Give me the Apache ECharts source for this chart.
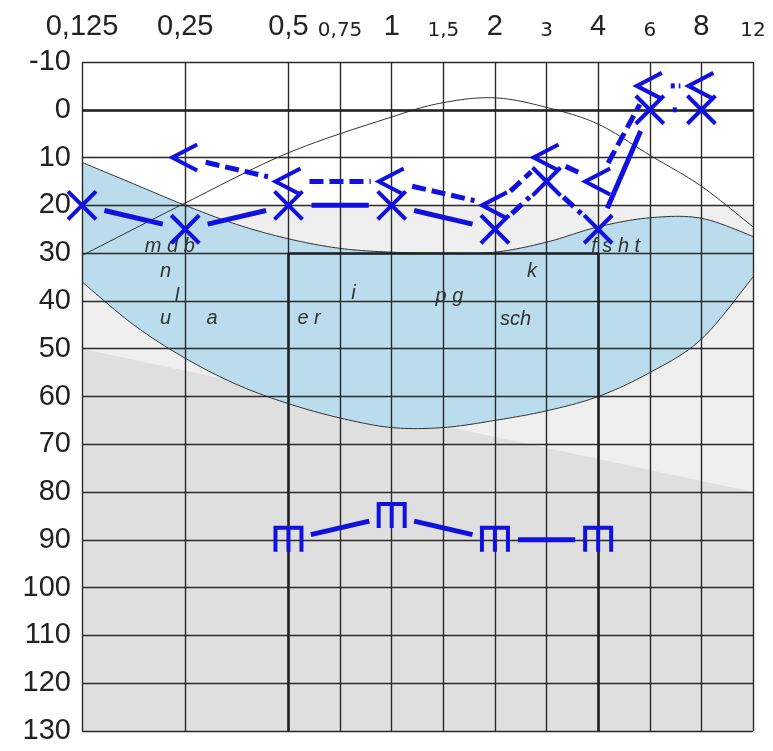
<!DOCTYPE html>
<html><head><meta charset="utf-8">
<script src="https://cdn.jsdelivr.net/npm/echarts@6/dist/echarts.min.js"></script>
<style>html,body{margin:0;padding:0;background:#fff}#c{width:773px;height:751px}</style>
</head><body><div id="c"></div>
<script>
// ---- axis ----
const freqLabels = ['0,125','0,25','0,5','0,75','1','1,5','2','3','4','6','8','12'];
const freqValues = [0.125,0.25,0.5,0.75,1,1.5,2,3,4,6,8,12];
const freqAxisPos = [0,1,2,2.5,3,3.5,4,4.5,5,5.5,6,6.5];
const smallTickLabels = ['0,75','1,5','3','6','12'];
const dbMin = -10, dbMax = 130, dbStep = 10;

// ---- audiogram data ----
const airFreq = [0.125,0.25,0.5,1,2,3,4,6,8];
const airDb   = [20,25,20,20,25,15,25,0,0];
const maskFreq = [0.25,0.5,1,2,3,4,6,8];
const maskDb   = [10,15,15,20,10,15,-5,-5];
const boneFreq = [0.5,1,2,4];
const boneDb   = [90,85,90,90];

// ---- speech banana & curve (axis positions in half-octave units) ----
const bananaPos    = [0,0.5,1,1.5,2,2.5,3,3.5,4,4.5,5,5.5,6,6.5];
const bananaTop    = [11,15.5,20,24,27,29,29.8,30,29.8,27.7,24.5,22.6,22.7,26.5];
const bananaBottom = [36,45,52,57.5,61.5,64.5,66.5,66.5,65,63,60,55,48,35];
const curvePos = [0,1,2,3,3.5,4,4.5,5,5.5,6,6.5];
const curveDb  = [30.5,19.5,9,1.5,-1.5,-2.5,-0.5,3,9.5,16,24.5];
const shadeEdgePos = [0,6.5];
const shadeEdgeDb  = [50,80];
const lightShadeDb = 20;

// ---- phoneme labels ----
const phonemeText = ['m d b','n','l','u','a','e r','i','p g','k','sch','f s h t'];
const phonemePos  = [0.85,0.81,0.92,0.81,1.26,2.2,2.63,3.56,4.36,4.2,5.17];
const phonemeDb   = [28.5,33.9,39,43.6,43.6,43.6,38.5,39,33.9,43.8,28.7];

const BLUE = '#1010e0';
const GRID = '#2a2a2a';
const FONT = "'Liberation Sans', Arial, sans-serif";
const posOf = f => freqAxisPos[freqValues.indexOf(f)];
const xMax = freqAxisPos[freqAxisPos.length-1];

// smooth rendering of a curve through pixel points (Catmull-Rom)
function smoothPath(pts, n) {
  const out = [];
  const L = pts.length;
  for (let i = 0; i < L-1; i++) {
    const p0 = pts[Math.max(i-1,0)], p1 = pts[i], p2 = pts[i+1], p3 = pts[Math.min(i+2,L-1)];
    for (let s = 0; s < n; s++) {
      const t = s/n, t2 = t*t, t3 = t2*t;
      const f = k => 0.5*((2*p1[k]) + (-p0[k]+p2[k])*t + (2*p0[k]-5*p1[k]+4*p2[k]-p3[k])*t2 + (-p0[k]+3*p1[k]-3*p2[k]+p3[k])*t3);
      out.push([f(0), f(1)]);
    }
  }
  out.push(pts[L-1]);
  return out;
}

function markerShape(kind, p) {
  const x = p[0], y = p[1];
  const st = {stroke: BLUE, lineWidth: 4, fill: null, lineJoin: 'miter'};
  if (kind === 'x') {
    return [
      {type:'line', shape:{x1:x-14,y1:y-14,x2:x+14,y2:y+14}, style:st},
      {type:'line', shape:{x1:x-14,y1:y+14,x2:x+14,y2:y-14}, style:st}
    ];
  }
  if (kind === 'lt') {
    return [{type:'polyline', shape:{points:[[x+12,y-13],[x-13,y],[x+12,y+13]]}, style:st}];
  }
  return [
    {type:'polyline', shape:{points:[[x-13,y+12],[x-13,y-12],[x+13,y-12],[x+13,y+12]]}, style:st},
    {type:'line', shape:{x1:x,y1:y-12,x2:x,y2:y+12}, style:st}
  ];
}

function markerSeries(name, freqs, dbs, kind, gap, dashes) {
  const pts = freqs.map((f,i)=>[posOf(f), dbs[i]]);
  return {
    type:'custom', name, z:10, clip:false, silent:true,
    data: pts, encode:{x:0, y:1},
    renderItem(params, api) {
      const i = params.dataIndex;
      const p = api.coord(pts[i]);
      const children = markerShape(kind, p);
      if (i < pts.length-1) {
        const q = api.coord(pts[i+1]);
        const dx = q[0]-p[0], dy = q[1]-p[1], len = Math.hypot(dx,dy);
        if (len > 2*gap) {
          const ux = dx/len, uy = dy/len;
          children.push({type:'line', shape:{x1:p[0]+ux*gap, y1:p[1]+uy*gap, x2:q[0]-ux*gap, y2:q[1]-uy*gap},
            style:{stroke:BLUE, lineWidth:5, lineDash: dashes[i]}});
        }
      }
      return {type:'group', children};
    }
  };
}

const D = [14,6], S = null, DOT = [4,4];
const airDash  = [S,S,S,S,D,D,S,DOT];
const maskDash = [D,D,D,D,D,D,DOT];
const boneDash = [S,S,S];

const chart = echarts.init(document.getElementById('c'), null, {renderer:'canvas'});
chart.setOption({
  animation:false,
  backgroundColor:'#ffffff',
  grid:{left:82, right:20, top:62, bottom:20, containLabel:false},
  xAxis:{
    type:'value', position:'top', min:0, max:xMax, interval:0.5, z:3,
    axisLine:{show:false}, axisTick:{show:false}, splitLine:{show:false},
    axisLabel:{
      margin:21,
      formatter: v => {
        const k = freqAxisPos.findIndex(p => Math.abs(p-v) < 1e-6);
        if (k < 0) return '';
        const t = freqLabels[k];
        return smallTickLabels.includes(t) ? '{s|'+t+'}' : '{b|'+t+'}';
      },
      rich:{
        b:{fontSize:29, fontFamily:FONT, color:'#222', lineHeight:29},
        s:{fontSize:20, fontFamily:"'DejaVu Sans', sans-serif", color:'#222', lineHeight:20}
      }
    }
  },
  yAxis:{
    type:'value', inverse:true, min:dbMin, max:dbMax, interval:dbStep, z:3,
    axisLine:{show:false}, axisTick:{show:false},
    axisLabel:{fontSize:29, fontFamily:FONT, color:'#222', margin:11},
    splitLine:{show:true, lineStyle:{color:GRID, width:1.4}}
  },
  series:[
    {
      type:'custom', z:1, silent:true, clip:true, data:[[0,0]], encode:{x:0,y:1},
      renderItem(params, api) {
        const a = api.coord([0, lightShadeDb]), b = api.coord([xMax, dbMax]);
        const poly = [api.coord([shadeEdgePos[0], shadeEdgeDb[0]]), api.coord([shadeEdgePos[1], shadeEdgeDb[1]]),
                      api.coord([xMax, dbMax]), api.coord([0, dbMax])];
        const top = smoothPath(bananaPos.map((p,i)=>api.coord([p, bananaTop[i]])), 12);
        const bot = smoothPath(bananaPos.map((p,i)=>api.coord([p, bananaBottom[i]])), 12);
        const bell = smoothPath(curvePos.map((p,i)=>api.coord([p, curveDb[i]])), 12);
        const banana = top.concat(bot.slice().reverse());
        const ln = {stroke:'#333', lineWidth:1, fill:null};
        return {type:'group', children:[
          {type:'rect', shape:{x:a[0], y:a[1], width:b[0]-a[0], height:b[1]-a[1]}, style:{fill:'#efefef'}},
          {type:'polygon', shape:{points:poly}, style:{fill:'#dfdfdf'}},
          {type:'polygon', shape:{points:banana}, style:{fill:'#badcec'}},
          {type:'polyline', shape:{points:top}, style:ln},
          {type:'polyline', shape:{points:bot}, style:ln},
          {type:'polyline', shape:{points:bell}, style:ln}
        ]};
      }
    },
    {
      type:'line', z:2, silent:true, symbol:'none', data:[],
      markLine:{
        silent:true, symbol:['none','none'], z:5, animation:false,
        label:{show:false},
        lineStyle:{color:GRID, width:1.4, type:'solid'},
        emphasis:{disabled:true},
        data: freqAxisPos.map(p=>({xAxis:p})).concat([
          [{coord:[0,0], lineStyle:{width:2.6, color:'#222'}}, {coord:[xMax,0]}],
          [{coord:[2,30], lineStyle:{width:2.6, color:'#222'}}, {coord:[5,30]}],
          [{coord:[2,30], lineStyle:{width:2.6, color:'#222'}}, {coord:[2,dbMax]}],
          [{coord:[5,30], lineStyle:{width:2.6, color:'#222'}}, {coord:[5,dbMax]}]
        ])
      }
    },
    {
      type:'custom', z:8, silent:true,
      data: phonemePos.map((p,i)=>[p, phonemeDb[i]]), encode:{x:0,y:1},
      renderItem(params, api) {
        const i = params.dataIndex;
        const c = api.coord([phonemePos[i], phonemeDb[i]]);
        return {type:'text', x:c[0], y:c[1], style:{
          text: phonemeText[i], font:"italic 20px 'Liberation Sans', Arial, sans-serif",
          fill:'#333', align:'center', verticalAlign:'middle', textAlign:'center', textVerticalAlign:'middle'
        }};
      }
    },
    markerSeries('air', airFreq, airDb, 'x', 23, airDash),
    markerSeries('mask', maskFreq, maskDb, 'lt', 21, maskDash),
    markerSeries('bone', boneFreq, boneDb, 'm', 23, boneDash)
  ]
});
</script></body></html>
